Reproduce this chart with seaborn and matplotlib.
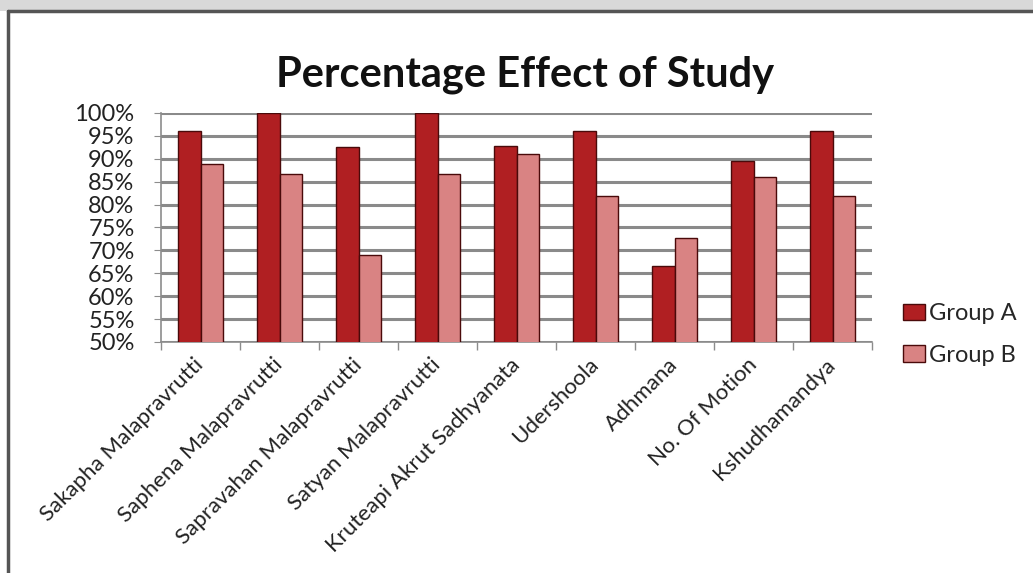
import pandas as pd
import matplotlib
matplotlib.use("Agg")
import matplotlib.pyplot as plt
import seaborn as sns
from matplotlib.patches import Rectangle
from matplotlib.ticker import PercentFormatter, FixedLocator

symptoms = ['Sakapha Malapravrutti', 'Saphena Malapravrutti', 'Sapravahan Malapravrutti',
            'Satyan Malapravrutti', 'Kruteapi Akrut Sadhyanata', 'Udershoola',
            'Adhmana', 'No. Of Motion', 'Kshudhamandya']
group_a = [96, 100, 92.5, 100, 92.7, 96, 66.7, 89.6, 96]
group_b = [88.8, 86.6, 69, 86.6, 91, 81.8, 72.7, 86, 81.8]

df = pd.DataFrame({
    'symptom': symptoms * 2,
    'pct': group_a + group_b,
    'group': ['Group A'] * len(symptoms) + ['Group B'] * len(symptoms),
})

sns.set_style("white")
plt.rcParams['font.family'] = ['Lato', 'DejaVu Sans']

fig = plt.figure(figsize=(10.33, 5.73), dpi=100)
# grey strip on top and chart frame
fig.patches.append(Rectangle((0, 1 - 11 / 573), 1, 11 / 573, transform=fig.transFigure,
                             facecolor='#d9d9d9', edgecolor='none', zorder=0))
fig.lines.append(plt.Line2D([8 / 1033, 8 / 1033], [0, 1 - 11 / 573], transform=fig.transFigure,
                            color='#555555', lw=2.5))
fig.lines.append(plt.Line2D([8 / 1033, 1], [1 - 11 / 573, 1 - 11 / 573], transform=fig.transFigure,
                            color='#555555', lw=2.5))

ax = fig.add_axes([161 / 1033, 1 - 342 / 573, 711 / 1033, 229 / 573])
sns.barplot(data=df, x='symptom', y='pct', hue='group', ax=ax, width=0.56, saturation=1,
            palette={'Group A': '#b01f22', 'Group B': '#d98383'},
            edgecolor='#4a0a0a', linewidth=1.0, zorder=3)

ax.set_ylim(50, 100)
ax.set_xlim(-0.5, len(symptoms) - 0.5)
ax.set_yticks(range(50, 101, 5))
ax.yaxis.set_major_formatter(PercentFormatter(decimals=0))
ax.grid(axis='y', color='#8a8a8a', lw=2.2, zorder=0)
ax.set_axisbelow(True)
for s in ['top', 'right']:
    ax.spines[s].set_visible(False)
ax.spines['left'].set_color('#8c8c8c')
ax.spines['bottom'].set_color('#8c8c8c')
ax.spines['left'].set_linewidth(1.2)
ax.spines['bottom'].set_linewidth(1.2)

ax.set_xlabel('')
ax.set_ylabel('')
ax.tick_params(axis='y', labelsize=17, length=5, color='#8c8c8c', left=True, pad=14, labelcolor='#222222')
ax.set_xticks(range(len(symptoms)))
ax.set_xticklabels(symptoms, rotation=45, ha='right', va='center', rotation_mode='anchor',
                   fontsize=16, color='#222222')
ax.tick_params(axis='x', length=0, pad=14)
ax.xaxis.set_minor_locator(FixedLocator([i - 0.5 for i in range(len(symptoms) + 1)]))
ax.tick_params(axis='x', which='minor', bottom=True, length=6, color='#8c8c8c', width=1)

ax.legend(loc='upper left', frameon=False, fontsize=17,
          handlelength=0.9, handleheight=0.7, handletextpad=0.2, labelspacing=0.85,
          borderaxespad=0, bbox_to_anchor=(894 / 1033, 1 - 294 / 573),
          bbox_transform=fig.transFigure)

fig.text(525 / 1033, 1 - 75 / 573, 'Percentage Effect of Study', ha='center', va='center',
         fontsize=30, fontweight='bold', color='#111111')

fig.savefig('out.png', dpi=100)
